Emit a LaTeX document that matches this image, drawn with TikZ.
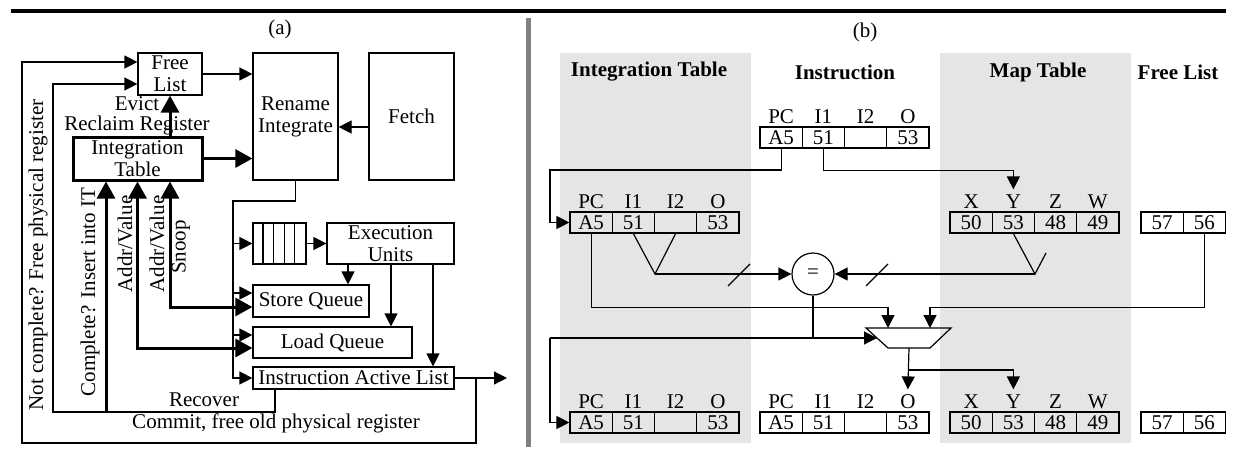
\documentclass[tikz,border=0pt]{standalone}
\usepackage{fontspec}
\setmainfont{Liberation Serif}
\usetikzlibrary{arrows.meta}
\newcommand\cellrow[4]{% name, x left, y centre, values
  \foreach \v [count=\i] in {#4} {\node[cell] (#1-\i) at ({#2+42.25*(\i-0.5)}, #3) {\v};}}
\newcommand\headrow[2]{% name, labels
  \foreach \l [count=\i] in {#2} {\node[lbl] at ([yshift=2.5pt]#1-\i.north) {\l};}}
\begin{document}
\begin{tikzpicture}[x=1pt,y=-1pt,font=\fontsize{21}{22}\selectfont,line width=1.2pt,
  box/.style={draw,rectangle,inner sep=0pt,align=center},
  arr/.style={-{Triangle[length=13pt,width=13pt]}},
  tarr/.style={line width=3pt,-{Triangle[length=17pt,width=18pt]}},
  tarrs/.style={line width=3pt,{Triangle[length=17pt,width=18pt]}-{Triangle[length=17pt,width=18pt]}},
  cell/.style={draw,rectangle,minimum width=42.25pt,minimum height=21pt,inner sep=0pt},
  lbl/.style={anchor=base,inner sep=0pt},
  hdr/.style={font=\fontsize{21}{22}\selectfont\bfseries},
  txt/.style={inner sep=0pt}]
\useasboundingbox (0,0) rectangle (1237,451);
% frame
\draw[line width=4pt] (11,10.5) -- (1226,10.5);
\draw[line width=5pt,gray] (528,18) -- (528,447);

% ---------------- (a) ----------------
\node[txt] (ta) at (280,29) {(a)};
\node[box,minimum width=64pt,minimum height=42pt] (fl) at (170,74) {Free\\List};
\node[box,minimum width=85pt,minimum height=127pt] (rn) at (295.5,116.5) {Rename\\Integrate};
\node[box,minimum width=85pt,minimum height=127pt] (fe) at (411.5,116.5) {Fetch};
\node[box,line width=3pt,minimum width=129pt,minimum height=43pt] (it) at (137.5,158.5) {Integration\\Table};
\node[box,minimum width=53pt,minimum height=41pt] (q) at (279.5,243.5) {};
\foreach \k in {1,2,3,4} \draw ([xshift=10.6*\k pt]q.north west) -- ([xshift=10.6*\k pt]q.south west);
\node[box,minimum width=127pt,minimum height=41pt] (eu) at (390.5,243.5) {Execution\\Units};
\node[box,minimum width=116pt,minimum height=32pt] (sq) at (311,301) {Store Queue};
\node[box,minimum width=159pt,minimum height=31pt] (lq) at (332.5,342.5) {Load Queue};
\node[box,minimum width=201pt,minimum height=22pt] (ial) at (353.5,378) {Instruction Active List};

\coordinate (out) at (507,378);
\coordinate (j1) at (476,378);
\coordinate (c1) at (22,443);
\coordinate (c2) at (53,412);
\coordinate (c3) at (106,412);
\coordinate (v0) at (233,201);
\coordinate (x348) at (348,0);
\coordinate (x391) at (391,0);
\coordinate (x433) at (433,0);

\draw[arr] (fl.east) -- (fl.east -| rn.west);
\draw[arr] ([yshift=-10.5pt]fe.west) -- ([yshift=-10.5pt]rn.east);
\draw[tarr] (it.east) -- (it.east -| rn.west);
\draw[tarr] (fl.south |- it.north) -- (fl.south);

\draw[arr] (ial.east) -- (out);
\draw[arr] (j1) |- (c1) |- ([yshift=12pt]fl.west);
\draw[arr] ([xshift=-78.5pt]ial.south) |- (c2) |- ([yshift=-10pt]fl.west);
\draw[tarr] (c3) -- (c3 |- it.south);
\draw[tarrs] (it.south) |- ([yshift=-5.5pt]lq.west);
\draw[tarrs] (fl.south |- it.south) |- ([yshift=-6pt]sq.west);

\draw[arr] (rn.south) |- (v0) |- (ial.west);
\draw[arr] (v0 |- q.west) -- (q.west);
\draw[arr] (v0 |- 0,293) -- ([yshift=8pt]sq.west);
\draw[arr] (v0 |- 0,335) -- ([yshift=7.5pt]lq.west);
\draw[arr] (q.east) -- (eu.west);
\draw[arr] (x348 |- eu.south) -- (x348 |- sq.north);
\draw[arr] (x391 |- eu.south) -- (x391 |- lq.north);
\draw[arr] (x433 |- eu.south) -- (x433 |- ial.north);

\node[txt] (l1) at (137,104) {Evict};
\node[txt] (l2) at (137,125) {Reclaim Register};
\node[txt,rotate=90] (l3) at (38,255) {Not complete? Free physical register};
\node[txt,rotate=90] (l4) at (90,292) {Complete? Insert into IT};
\node[txt,rotate=90] (l5) at (125,244) {Addr/Value};
\node[txt,rotate=90] (l6) at (157,244) {Addr/Value};
\node[txt,rotate=90] (l7) at (181,247) {Snoop};
\node[txt] (l8) at (204,400) {Recover};
\node[txt] (l9) at (276,423) {Commit, free old physical register};

% ---------------- (b) ----------------
\fill[gray!20] (560,53) rectangle (751,443);
\fill[gray!20] (940,53) rectangle (1131,443);
\node[txt] (tb) at (865,32) {(b)};
\node[hdr] (h1) at (649,72) {Integration Table};
\node[hdr] (h2) at (845,72) {Instruction};
\node[hdr] (h3) at (1038,72) {Map Table};
\node[hdr] (h4) at (1178,72) {Free List};

\cellrow{ins}{760}{137.5}{A5,51,{},53}\headrow{ins}{PC,I1,I2,O}
\cellrow{ita}{570}{222.5}{A5,51,{},53}\headrow{ita}{PC,I1,I2,O}
\cellrow{mta}{950}{222.5}{50,53,48,49}\headrow{mta}{X,Y,Z,W}
\cellrow{fla}{1141}{222.5}{57,56}
\cellrow{itb}{570}{422.5}{A5,51,{},53}\headrow{itb}{PC,I1,I2,O}
\cellrow{inb}{760}{422.5}{A5,51,{},53}\headrow{inb}{PC,I1,I2,O}
\cellrow{mtb}{950}{422.5}{50,53,48,49}\headrow{mtb}{X,Y,Z,W}
\cellrow{flb}{1141}{422.5}{57,56}

\node[draw,circle,minimum size=42pt,inner sep=0pt] (eq) at (813,274) {=};
\coordinate (m1) at (888,328);
\coordinate (m2) at (930,328);
\coordinate (msel) at (877,338);
\coordinate (mout) at (909,348);
\draw (866,328) -- (951,328) -- (930,348) -- (888,348) -- cycle;
\coordinate (va) at (655,274);
\coordinate (vb) at (1035,274);
\coordinate (c4) at (550,170);
\coordinate (c7) at (550,338);
\coordinate (c8) at (909,370);

\draw[arr] (ins-1.south) |- (c4) |- (ita-1.west);
\draw[arr] (ins-2.south) -- ++(0,22) -| ([yshift=22pt]mta-2.north);
\draw (ita-2.south) -- (va) -- (ita-3.south);
\draw[arr] (va) -- (eq.west);
\draw (mta-2.south) -- (vb) -- ++(11,-21);
\draw[arr] (vb) -- (eq.east);
\draw (728,286) -- (750,264);
\draw (866,286) -- (888,264);
\draw[arr] (ita-1.south) -- ++(0,74) -| (m1);
\draw[arr] (fla-2.south) -- ++(0,74) -| (m2);
\draw (eq.south) -- (eq.south |- msel);
\draw[arr] (c7) -- (msel);
\draw[arr] (c7) |- (itb-1.west);
\draw[arr] (mout) -- ([yshift=22pt]inb-4.north);
\draw[arr] (c8) -| ([yshift=22pt]mtb-2.north);
\end{tikzpicture}
\end{document}
